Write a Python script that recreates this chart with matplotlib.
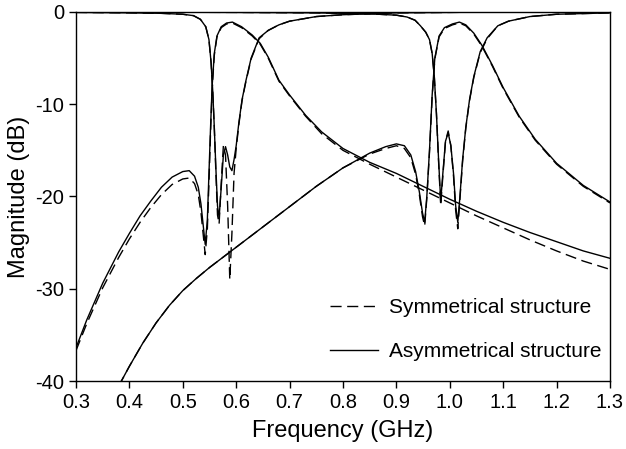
import matplotlib
matplotlib.use("Agg")
import matplotlib.pyplot as plt

plt.rcParams['font.family'] = ['Liberation Sans', 'DejaVu Sans']
plt.rcParams['axes.unicode_minus'] = False

# band 1 transmission
f_t1 = [0.30, 0.32, 0.35, 0.38, 0.40, 0.42, 0.44, 0.46, 0.48, 0.50, 0.512, 0.522, 0.529,
        0.534, 0.538, 0.542, 0.546, 0.549, 0.552, 0.555, 0.559, 0.564, 0.572, 0.582, 0.593,
        0.61, 0.63, 0.645, 0.66, 0.68, 0.70, 0.73, 0.76, 0.80, 0.85, 0.90, 0.95, 1.00, 1.05,
        1.10, 1.15, 1.20, 1.25, 1.30]
t1_asym = [-36.4, -33.4, -29.4, -26.0, -24.0, -22.1, -20.5, -19.0, -17.9, -17.3, -17.2, -17.8, -19.0,
           -20.8, -23.0, -25.2, -22.5, -17.5, -12.5, -8.0, -4.5, -2.6, -1.6, -1.2, -1.1,
           -1.6, -2.5, -3.4, -4.9, -7.4, -9.0, -11.2, -13.0, -14.8, -16.3, -17.5, -18.9, -20.3, -21.6,
           -22.8, -23.9, -24.9, -25.9, -26.7]
t1_sym = [-36.7, -33.8, -29.9, -26.6, -24.6, -22.8, -21.2, -19.8, -18.7, -18.1, -18.0, -18.6, -19.8,
          -21.7, -24.0, -26.3, -23.5, -18.5, -13.0, -8.3, -4.7, -2.7, -1.7, -1.3, -1.2,
          -1.7, -2.6, -3.5, -5.0, -7.5, -9.1, -11.3, -13.2, -15.0, -16.5, -17.9, -19.3, -20.7, -22.1,
          -23.4, -24.7, -25.9, -27.0, -27.9]

# band 2 transmission
f_t2 = [0.36, 0.385, 0.40, 0.425, 0.45, 0.475, 0.50, 0.525, 0.55, 0.575, 0.60, 0.65, 0.70, 0.75,
        0.80, 0.85, 0.88, 0.90, 0.915, 0.927, 0.936, 0.943, 0.949, 0.953, 0.957, 0.962, 0.967,
        0.972, 0.98, 0.99, 1.005, 1.018, 1.03, 1.045, 1.06, 1.08, 1.10, 1.13, 1.16, 1.20, 1.25, 1.30]
t2_asym = [-42.0, -40.0, -38.4, -35.9, -33.7, -31.8, -30.2, -28.9, -27.7, -26.6, -25.5, -23.3, -21.1, -18.9,
           -16.9, -15.3, -14.6, -14.3, -14.5, -15.5, -17.3, -19.5, -21.8, -22.8, -20.0, -15.0, -9.0,
           -5.0, -2.6, -1.7, -1.3, -1.1, -1.4, -2.3, -3.6, -5.8, -8.2, -11.3, -13.8, -16.4, -18.8, -20.6]
t2_sym = [-42.0, -40.0, -38.4, -35.9, -33.7, -31.8, -30.2, -28.9, -27.7, -26.6, -25.5, -23.3, -21.1, -18.9,
          -16.9, -15.4, -14.8, -14.5, -14.8, -15.8, -17.6, -19.8, -22.2, -23.2, -20.2, -15.2, -9.2,
          -5.1, -2.7, -1.8, -1.4, -1.2, -1.5, -2.4, -3.7, -5.9, -8.3, -11.4, -13.9, -16.5, -18.9, -20.7]

# band 1 reflection
f_r1 = [0.30, 0.40, 0.46, 0.50, 0.52, 0.533, 0.543, 0.549, 0.553, 0.556, 0.559, 0.562, 0.565,
        0.568, 0.572, 0.576, 0.580, 0.584, 0.588, 0.592, 0.596, 0.600, 0.605, 0.611, 0.618,
        0.628, 0.643, 0.66, 0.68, 0.70, 0.75, 0.80, 0.90, 1.00, 1.10, 1.30]
r1_asym = [-0.05, -0.1, -0.15, -0.25, -0.4, -0.8, -1.6, -3.0, -5.5, -8.5, -12.5, -17.0, -21.0,
           -22.3, -19.0, -15.5, -14.6, -15.5, -16.8, -17.2, -16.0, -14.5, -12.0, -9.5, -7.5,
           -5.0, -2.8, -2.0, -1.4, -1.0, -0.5, -0.3, -0.1, -0.05, 0.0, 0.0]
r1_sym = [-0.05, -0.1, -0.15, -0.25, -0.4, -0.8, -1.6, -3.0, -5.5, -8.5, -12.5, -17.5, -22.0,
          -23.0, -18.5, -14.5, -15.5, -21.0, -29.0, -24.0, -17.5, -14.8, -12.2, -9.6, -7.6,
          -5.1, -2.9, -2.0, -1.4, -1.0, -0.5, -0.3, -0.1, -0.05, 0.0, 0.0]

# band 2 reflection
f_r2 = [0.30, 0.60, 0.75, 0.85, 0.90, 0.92, 0.935, 0.945, 0.955, 0.962, 0.967, 0.971, 0.975,
        0.979, 0.983, 0.987, 0.992, 0.997, 1.002, 1.007, 1.011, 1.015, 1.019, 1.024, 1.03,
        1.037, 1.045, 1.057, 1.07, 1.09, 1.11, 1.15, 1.20, 1.30]
r2_asym = [0.0, -0.05, -0.1, -0.2, -0.35, -0.55, -0.9, -1.5, -2.2, -3.0, -4.5, -7.0, -11.0,
           -16.0, -20.5, -17.5, -14.0, -13.1, -14.5, -17.5, -21.0, -22.8, -20.0, -16.0, -12.5,
           -9.5, -7.0, -4.3, -2.8, -1.5, -1.0, -0.5, -0.25, -0.1]
r2_sym = [0.0, -0.05, -0.1, -0.2, -0.35, -0.55, -0.9, -1.5, -2.2, -3.0, -4.5, -7.0, -11.0,
          -16.2, -21.0, -17.8, -14.0, -12.9, -14.5, -17.8, -21.5, -23.5, -20.3, -16.2, -12.6,
          -9.6, -7.1, -4.4, -2.9, -1.5, -1.0, -0.5, -0.25, -0.1]

x_ticks = [0.3, 0.4, 0.5, 0.6, 0.7, 0.8, 0.9, 1.0, 1.1, 1.2, 1.3]
y_ticks = [-40, -30, -20, -10, 0]

fig = plt.figure(figsize=(6.26, 4.49), dpi=100)
ax = fig.add_axes([0.1214, 0.1514, 0.853, 0.822])

dash = dict(color='black', lw=1.0, dashes=(8, 4))
solid = dict(color='black', lw=1.0)

ax.plot(f_t1, t1_sym, label='Symmetrical structure', **dash)
ax.plot(f_t2, t2_sym, **dash)
ax.plot(f_r1, r1_sym, **dash)
ax.plot(f_r2, r2_sym, **dash)

ax.plot(f_t1, t1_asym, label='Asymmetrical structure', **solid)
ax.plot(f_t2, t2_asym, **solid)
ax.plot(f_r1, r1_asym, **solid)
ax.plot(f_r2, r2_asym, **solid)

ax.set_xlim(0.3, 1.3)
ax.set_ylim(-40, 0)
ax.set_xticks(x_ticks)
ax.set_xticklabels(['%.1f' % v for v in x_ticks])
ax.set_yticks(y_ticks)
ax.tick_params(direction='out', length=5, width=1, labelsize=14.5, top=False, right=False)
for s in ax.spines.values():
    s.set_linewidth(1.0)

ax.set_xlabel('Frequency (GHz)', fontsize=17, labelpad=6)
ax.set_ylabel('Magnitude (dB)', fontsize=17, labelpad=4)

ax.legend(loc='center left', bbox_to_anchor=(0.476, 0.14), frameon=False, fontsize=15,
          handlelength=2.3, handletextpad=0.5, labelspacing=1.2, borderpad=0, borderaxespad=0)

fig.savefig('out.png', dpi=100)
